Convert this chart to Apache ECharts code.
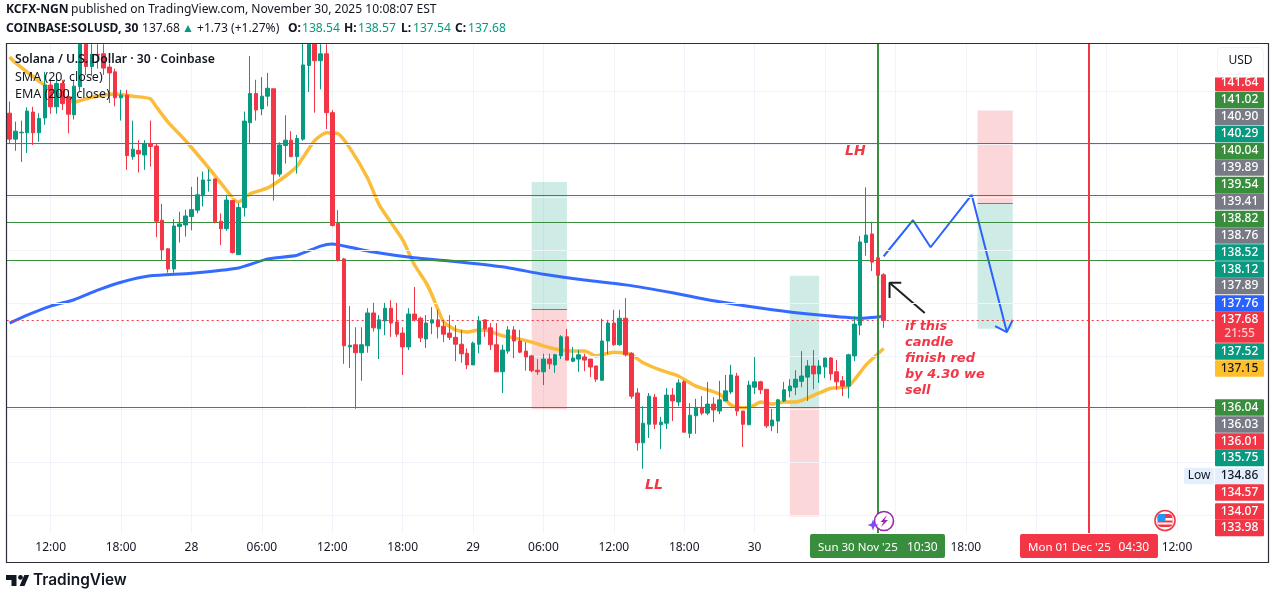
<!DOCTYPE html>
<html>
<head>
<meta charset="utf-8">
<style>html,body{margin:0;padding:0;background:#fff}#chart{width:1275px;height:599px}</style>
<script src="https://cdn.jsdelivr.net/npm/echarts@6/dist/echarts.min.js"></script>
</head>
<body>
<div id="chart"></div>
<script>
// candles, 30 min bars, first one is 27 Nov 08:30
// anything running off the top of the pane is only known up to the pane edge, 142.89
var opens=[141.59,141.10,141.22,141.22,141.61,141.22,141.50,142.12,141.71,142.15,
141.90,141.56,142.09,142.89,142.47,142.70,142.71,142.46,142.37,141.88,
141.93,140.77,140.89,140.80,141.02,140.97,139.57,139.03,138.65,139.45,
139.48,139.64,139.76,140.03,140.32,140.35,139.55,139.41,139.94,138.92,
139.81,141.41,141.96,141.67,141.91,142.05,140.44,140.98,141.08,140.77,
141.10,142.49,142.89,142.58,142.71,141.60,139.51,138.84,137.18,137.22,
137.07,137.20,137.82,137.52,137.67,137.91,137.65,137.44,137.18,137.80,
137.72,137.33,137.63,137.69,137.57,137.44,137.36,137.23,137.06,136.84,
137.23,137.69,137.54,137.22,136.71,137.10,137.50,137.29,137.10,137.01,
136.74,136.71,136.95,136.84,137.01,137.37,136.91,136.95,136.99,136.95,
136.82,136.55,137.29,137.63,137.22,137.72,137.06,136.31,135.37,135.72,
136.23,135.71,135.74,136.27,136.14,136.52,135.55,135.88,136.04,135.93,
136.10,135.97,136.16,136.33,136.63,135.97,135.71,136.42,136.52,136.38,
135.69,135.78,136.16,136.35,136.42,136.53,136.61,136.82,136.67,136.80,
136.97,136.71,136.54,136.44,137.01,137.59,139.15,139.31,138.86,138.54];
var closes=[141.10,141.25,141.23,141.63,141.22,141.49,142.12,141.71,142.15,141.77,
141.57,142.10,142.89,142.47,142.70,142.69,142.44,142.35,141.88,141.93,
140.79,140.91,140.82,141.02,140.96,139.55,139.01,138.65,139.46,139.50,
139.65,139.77,140.05,140.33,140.33,139.54,139.41,139.95,138.96,139.81,
141.44,141.96,141.65,141.91,142.06,140.44,140.99,141.08,140.77,141.11,
142.50,142.89,142.58,142.71,141.60,139.47,138.81,137.20,137.21,137.07,
137.22,137.82,137.54,137.69,137.91,137.63,137.42,137.18,137.80,137.69,
137.35,137.63,137.69,137.56,137.42,137.36,137.23,137.05,136.84,137.25,
137.67,137.52,137.22,136.71,137.12,137.50,137.29,137.08,136.99,136.73,
136.71,136.95,136.86,137.03,137.37,136.93,136.97,137.03,136.93,136.80,
136.57,137.29,137.63,137.22,137.72,137.03,136.25,135.37,135.74,136.25,
135.72,135.76,136.27,136.16,136.50,135.57,135.89,136.04,135.93,136.10,
135.99,136.18,136.35,136.65,135.97,135.72,136.46,136.52,136.37,135.69,
135.80,136.18,136.37,136.44,136.57,136.63,136.82,136.67,136.82,136.97,
136.67,136.52,136.44,137.03,137.61,139.16,139.29,138.78,138.53,137.68];
var lows=[141.01,140.88,140.67,140.84,140.99,141.05,141.37,141.58,141.58,141.65,
141.21,141.47,142.01,142.31,142.29,142.43,142.31,141.78,141.72,141.45,
140.52,140.71,140.47,140.52,140.58,139.25,138.82,138.58,138.58,139.15,
139.26,139.38,139.70,139.83,140.11,139.51,139.10,139.37,138.94,138.92,
139.64,141.03,141.45,141.55,141.72,139.94,140.39,140.64,140.76,140.45,
141.07,141.99,141.60,142.04,141.29,139.45,138.79,136.86,136.78,136.01,
136.54,137.07,137.47,136.95,137.40,137.37,137.37,136.65,137.12,137.66,
137.27,137.16,137.42,137.34,137.27,137.31,136.91,136.88,136.76,136.84,
137.06,137.37,137.12,136.71,136.31,137.05,136.97,137.06,136.73,136.70,
136.65,136.46,136.76,136.69,136.95,136.93,136.89,136.71,136.72,136.61,
136.52,136.55,137.04,137.20,137.20,137.00,136.20,135.22,134.88,135.46,
135.63,135.25,135.63,135.78,136.06,135.57,135.46,135.54,135.89,135.89,
135.76,135.91,136.16,136.29,135.88,135.29,135.71,136.29,136.29,135.65,
135.59,135.55,136.14,136.23,136.27,136.42,136.16,136.38,136.50,136.59,
136.55,136.37,136.25,136.21,136.91,137.40,138.90,138.61,138.40,137.54];
var highs=[141.81,141.43,141.45,141.70,141.71,141.59,142.37,142.22,142.25,142.22,
142.03,142.22,142.89,142.89,142.89,142.89,142.89,142.53,142.43,142.03,
142.03,141.45,141.08,141.08,141.45,141.02,139.88,139.04,139.59,139.73,
139.77,140.20,140.39,140.49,140.53,140.35,139.70,140.05,139.94,139.89,
141.62,142.67,142.22,142.27,142.35,142.05,141.04,141.55,141.25,141.18,
142.89,142.89,142.89,142.89,142.89,141.65,139.76,138.86,137.95,137.55,
137.55,137.91,138.01,137.78,138.01,138.06,138.01,137.55,137.91,138.31,
137.75,137.78,137.93,137.88,137.69,137.78,137.59,137.50,137.15,137.28,
137.76,137.69,137.63,137.63,137.22,137.57,137.57,137.50,137.27,137.03,
136.95,137.05,137.05,137.05,137.40,137.52,137.18,137.12,137.05,136.95,
136.82,137.71,137.69,137.88,137.88,138.10,137.08,136.40,136.06,136.31,
136.29,135.86,136.40,136.40,136.57,136.55,136.12,136.20,136.25,136.52,
136.23,136.54,136.65,136.84,136.69,135.97,136.54,136.99,136.54,136.38,
136.01,136.20,136.52,136.57,136.74,137.10,136.93,137.12,136.93,136.97,
136.99,136.93,136.63,137.05,137.76,139.27,140.19,139.54,138.95,138.57];

// moving averages, bar index + price
var smaBars=[0,1,6,11,14,18,21,24,25,27,30,34,36,39,41,44,47,49,52,54,56,58,61,63,67,69,71,72,73,74,76,78,80,81,84,86,89,91,93,96,98,100,103,105,106,108,111,114,117,121,123,125,127,128,130,132,134,138,140,143,146,149];
var smaVals=[142.65,142.54,142.12,141.80,141.89,141.95,141.91,141.86,141.71,141.42,141.07,140.55,140.27,139.91,140.07,140.18,140.40,140.59,141.07,141.22,141.20,140.93,140.37,139.86,139.20,138.73,138.39,138.16,137.89,137.65,137.50,137.46,137.50,137.50,137.39,137.35,137.27,137.20,137.14,137.10,137.10,137.01,137.08,137.06,137.03,136.88,136.74,136.63,136.44,136.29,136.08,136.03,136.08,136.14,136.10,136.14,136.14,136.31,136.40,136.44,136.84,137.15];
var emaBars=[0,3,7,11,15,19,24,31,39,44,49,53,55,58,62,69,75,84,91,98,105,113,120,130,138,145,149];
var emaVals=[137.63,137.78,137.95,138.07,138.25,138.40,138.52,138.57,138.67,138.84,138.91,139.08,139.12,139.06,138.97,138.86,138.80,138.69,138.55,138.44,138.35,138.20,138.05,137.88,137.78,137.72,137.76];

// drawings on the chart
var levels=[141.02,140.04,139.54,138.82,136.04];
var lastPrice=137.68;
var gridPrices=[134,135,136,137,138,139,140,141,142];
var sellBar=148, closeBar=184;
var boxStart=[89,133,165], boxEnd=[95,138,171];
var boxTop=[140.29,138.52,141.64], boxMid=[137.89,136.04,139.89], boxBottom=[136.01,133.98,137.52];
var boxTopGreen=[true,true,false];
var pathBars=[149,154,157,164,170], pathVals=[138.89,139.57,139.06,140.05,137.46];
var headBars=[168,170,171], headVals=[137.57,137.46,137.69];
var arrowBars=[156,150], arrowVals=[137.82,138.39];
var barbBars=[152,150,150], barbVals=[138.39,138.39,138.10];

// price scale tags, they are stacked so they sit apart from their prices
var tagTexts=['141.64','141.02','140.90','140.29','140.04','139.89','139.54','139.41','138.82','138.76','138.52','138.12','137.89','137.76','137.68','137.52','137.15','136.04','136.03','136.01','135.75','134.86','134.57','134.07','133.98'];
var tagKinds=['red','line','grey','teal','line','grey','line','grey','line','grey','teal','teal','grey','blue','red','teal','yellow','line','grey','red','teal','low','red','red','red'];
var tagRows=[83,100,117,134,151,167.5,185,201.5,219,235.5,252.5,269.5,286,303.5,320,351.5,368.5,407.5,424.5,441.5,458,476,492.5,511.5,528];

var dayNames=['27','28','29','30','Dec','2'];
var categories=[];
for(var i=0;i<206;i++){
    var mins=8*60+30+i*30;
    var hh=Math.floor(mins/60)%24, mm=mins%60;
    var dayName=dayNames[Math.floor(mins/1440)];
    categories.push(hh==0&&mm==0?dayName:(hh<10?'0':'')+hh+':'+(mm<10?'0':'')+mm);
}

var RED='#f23645',TEAL='#089981',GREEN='#388e3c',GREY='#787b86',BLUE='#2962ff',YELLOW='#fbb92e',INK='#131722';
var FONT='"Noto Sans",sans-serif';
var NOTE='"DejaVu Sans",sans-serif';
var tagColors={red:RED,line:GREEN,grey:GREY,teal:TEAL,blue:BLUE,yellow:'#ffbf2b',low:'#e3effd'};

var candles=[];
for(var i=0;i<opens.length;i++){
    candles.push([opens[i],closes[i],lows[i],highs[i]]);
}
function pairs(xs,ys){
    var out=[];
    for(var i=0;i<xs.length;i++){ out.push([xs[i],ys[i]]); }
    return out;
}
function isTimeTick(i){ return (i-7)%12==0; }

function toolLine(name,xs,ys,color,width){
    return {name:name,type:'line',data:pairs(xs,ys),symbol:'none',silent:true,z:3,
        lineStyle:{color:color,width:width},itemStyle:{color:color}};
}

// position boxes + grey entry lines
var areas=[],boxLines=[];
for(var i=0;i<boxStart.length;i++){
    var topColor=boxTopGreen[i]?'rgba(8,153,129,0.2)':'rgba(242,54,69,0.2)';
    var lowColor=boxTopGreen[i]?'rgba(242,54,69,0.2)':'rgba(8,153,129,0.2)';
    areas.push([{xAxis:boxStart[i],yAxis:boxTop[i],itemStyle:{color:topColor}},{xAxis:boxEnd[i],yAxis:boxMid[i]}]);
    areas.push([{xAxis:boxStart[i],yAxis:boxMid[i],itemStyle:{color:lowColor}},{xAxis:boxEnd[i],yAxis:boxBottom[i]}]);
    boxLines.push([{xAxis:boxStart[i],yAxis:boxMid[i]},{xAxis:boxEnd[i],yAxis:boxMid[i]}]);
}

var gfx=[];
function txt(x,y,text,size,color,opt){
    opt=opt||{};
    var st={text:text,fontFamily:opt.family||FONT,fontSize:size,fontWeight:opt.weight||'normal',fontStyle:opt.style||'normal',
        fill:color,align:opt.align||'left',verticalAlign:'middle'};
    gfx.push({type:'text',x:x,y:y,z:opt.z||50,silent:true,style:st});
}
function box(x,y,w,h,color,r,z){
    gfx.push({type:'rect',z:z||40,silent:true,shape:{x:x,y:y,width:w,height:h,r:r||0},style:{fill:color}});
}

// header
var HEAD=12.1;
txt(6,10,'KCFX-NGN',HEAD,INK,{weight:'bold'});
txt(71,10,'published on TradingView.com, November 30, 2025 10:08:07 EST',HEAD,INK);
txt(6,29,'COINBASE:SOLUSD, 30',HEAD,INK,{weight:'bold'});
txt(142,29,'137.68',HEAD,INK);
txt(182,29,'▲',HEAD,TEAL);
txt(197,29,'+1.73 (+1.27%)',HEAD,INK);
txt(288,29,'O:',HEAD,INK,{weight:'bold'});
txt(302,29,'138.54',HEAD,TEAL);
txt(344,29,'H:',HEAD,INK,{weight:'bold'});
txt(358,29,'138.57',HEAD,TEAL);
txt(401,29,'L:',HEAD,INK,{weight:'bold'});
txt(413,29,'137.54',HEAD,TEAL);
txt(455,29,'C:',HEAD,INK,{weight:'bold'});
txt(468,29,'137.68',HEAD,TEAL);

// legend over the plot
txt(15,60,'Solana / U.S. Dollar · 30 · Coinbase',12.2,INK,{weight:600});
txt(15,77,'SMA (20, close)',12.5,INK);
txt(15,94,'EMA (200, close)',12.5,INK);

// notes
txt(845,151,'LH',14,RED,{style:'italic',weight:'bold',family:NOTE});
txt(645,485,'LL',14,RED,{style:'italic',weight:'bold',family:NOTE});
var noteLines=['if this','candle','finish red','by 4.30 we','sell'];
for(var i=0;i<noteLines.length;i++){
    txt(905,327+i*16,noteLines[i],13,RED,{style:'italic',weight:'bold',family:NOTE});
}

// price tags
for(var i=0;i<tagTexts.length;i++){
    var kind=tagKinds[i];
    var rowH=(i==14)?31:16.6;
    box(1215,tagRows[i]-8.3,49,rowH,tagColors[kind],1);
    txt(1239.5,tagRows[i],tagTexts[i],12,(kind=='low'||kind=='yellow')?INK:'#fff',{align:'center',z:45,weight:500});
}
txt(1239.5,334,'21:55',12,'#ffc9ce',{align:'center',z:45,weight:500});
box(1184,467.7,30,16.6,'#e3effd',2);
txt(1199,476,'Low',12,INK,{align:'center',z:45});

// USD button, covers top of the first tag
box(1215,44,53,33.5,'#fff',0,46);
gfx.push({type:'rect',z:47,silent:true,shape:{x:1217.5,y:47.5,width:46,height:27,r:4},style:{fill:'#fff',stroke:'#f0f3fa',lineWidth:1}});
txt(1240.5,61,'USD',12,INK,{align:'center',z:48});

// time scale tags
box(810,534,135,24,GREEN,2);
txt(818,548,"Sun 30 Nov '25",11.5,'#fff',{z:45});
txt(907,548,'10:30',12,'#fff',{z:45});
box(1020,534,138,24,RED,2);
txt(1028,548,"Mon 01 Dec '25",11.5,'#fff',{z:45});
txt(1118.5,548,'04:30',12,'#fff',{z:45});

// frame
gfx.push({type:'rect',z:60,silent:true,shape:{x:6.5,y:43.5,width:1262,height:519},style:{fill:'none',stroke:'#2a2e39',lineWidth:1.2}});

// events icons
gfx.push({type:'circle',z:30,silent:true,shape:{cx:884,cy:521,r:9.5},style:{fill:'#fff',stroke:'#9c27b0',lineWidth:1.6}});
gfx.push({type:'polygon',z:31,silent:true,shape:{points:[[887,515],[880.5,522],[883.5,522],[881,527],[888,520],[884.5,520]]},style:{fill:'#9c27b0'}});
gfx.push({type:'polygon',z:31,silent:true,shape:{points:[[873,519.5],[874.5,523.5],[878.5,525],[874.5,526.5],[873,530.5],[871.5,526.5],[867.5,525],[871.5,523.5]]},style:{fill:'#7c4dff'}});
gfx.push({type:'circle',z:30,silent:true,shape:{cx:1165,cy:520.5,r:10},style:{fill:'#fff',stroke:RED,lineWidth:1.6}});
gfx.push({type:'rect',z:31,silent:true,shape:{x:1157.5,y:514,width:15,height:13,r:4},style:{fill:RED}});
gfx.push({type:'rect',z:32,silent:true,shape:{x:1157.5,y:518,width:15,height:2.5},style:{fill:'#fff'}});
gfx.push({type:'rect',z:32,silent:true,shape:{x:1157.5,y:522.5,width:15,height:2},style:{fill:'#fff'}});
gfx.push({type:'rect',z:33,silent:true,shape:{x:1157.5,y:514,width:8,height:7.5,r:2},style:{fill:'#2196f3'}});

// logo
gfx.push({type:'polygon',z:50,silent:true,shape:{points:[[6,575],[16.5,575],[16.5,586],[11.5,586],[11.5,580],[6,580]]},style:{fill:INK}});
gfx.push({type:'circle',z:50,silent:true,shape:{cx:20.5,cy:577.4,r:2.4},style:{fill:INK}});
gfx.push({type:'polygon',z:50,silent:true,shape:{points:[[24.3,575],[29.2,575],[24.5,586],[19.6,586]]},style:{fill:INK}});
txt(33,580,'TradingView',15.4,INK,{family:'Inter,sans-serif',weight:600});

var myChart=echarts.init(document.getElementById('chart'),null,{renderer:'canvas'});
myChart.setOption({
    animation:false,
    backgroundColor:'#fff',
    grid:{left:6.7,top:44,width:1208.4,height:489,containLabel:false},
    xAxis:{
        type:'category',
        data:categories,
        boundaryGap:true,
        axisLine:{show:false},
        axisTick:{show:false},
        axisLabel:{color:INK,fontFamily:FONT,fontSize:12,interval:function(i){return isTimeTick(i);},margin:9},
        splitLine:{show:true,alignWithLabel:true,interval:function(i){return isTimeTick(i);},lineStyle:{color:'#f0f3fa',width:1}}
    },
    yAxis:{type:'value',min:133.668,max:142.895,show:false,splitLine:{show:false}},
    series:[
        {name:'grid',type:'line',data:[],silent:true,z:1,
            markLine:{silent:true,symbol:'none',label:{show:false},animation:false,
                lineStyle:{color:'#f0f3fa',width:1,type:'solid'},
                data:gridPrices.map(function(p){return {yAxis:p};})}},
        {name:'boxes',type:'line',data:[],silent:true,z:2,
            markArea:{silent:true,animation:false,data:areas},
            markLine:{silent:true,symbol:'none',label:{show:false},animation:false,
                lineStyle:{color:GREY,width:1,type:'solid'},data:boxLines}},
        {name:'levels',type:'line',data:[],silent:true,z:3,
            markLine:{silent:true,symbol:'none',label:{show:false},animation:false,
                lineStyle:{color:GREEN,width:1,type:'solid'},
                data:levels.map(function(p){return {yAxis:p};})}},
        {name:'last',type:'line',data:[],silent:true,z:3,
            markLine:{silent:true,symbol:'none',label:{show:false},animation:false,
                lineStyle:{color:RED,width:1,type:[2,3]},
                data:[{yAxis:lastPrice}]}},
        {name:'times',type:'line',data:[],silent:true,z:3,
            markLine:{silent:true,symbol:'none',label:{show:false},animation:false,
                lineStyle:{width:2,type:'solid'},
                data:[{xAxis:sellBar,lineStyle:{color:GREEN}},{xAxis:closeBar,lineStyle:{color:RED}}]}},
        {name:'SMA (20, close)',type:'line',data:pairs(smaBars,smaVals),symbol:'none',smooth:0.2,silent:true,z:4,
            lineStyle:{color:YELLOW,width:3.5,opacity:0.95}},
        {name:'EMA (200, close)',type:'line',data:pairs(emaBars,emaVals),symbol:'none',smooth:0.2,silent:true,z:4,
            lineStyle:{color:BLUE,width:3,opacity:0.95}},
        toolLine('path',pathBars,pathVals,BLUE,2),
        toolLine('pathHead',headBars,headVals,BLUE,2),
        toolLine('arrow',arrowBars,arrowVals,'#1e2024',2),
        toolLine('arrowHead',barbBars,barbVals,'#1e2024',2),
        {name:'Solana / U.S. Dollar',type:'candlestick',data:candles,barWidth:4,z:10,silent:true,
            itemStyle:{color:TEAL,color0:RED,borderColor:TEAL,borderColor0:RED,borderWidth:1}}
    ],
    graphic:gfx
});
</script>
</body>
</html>
